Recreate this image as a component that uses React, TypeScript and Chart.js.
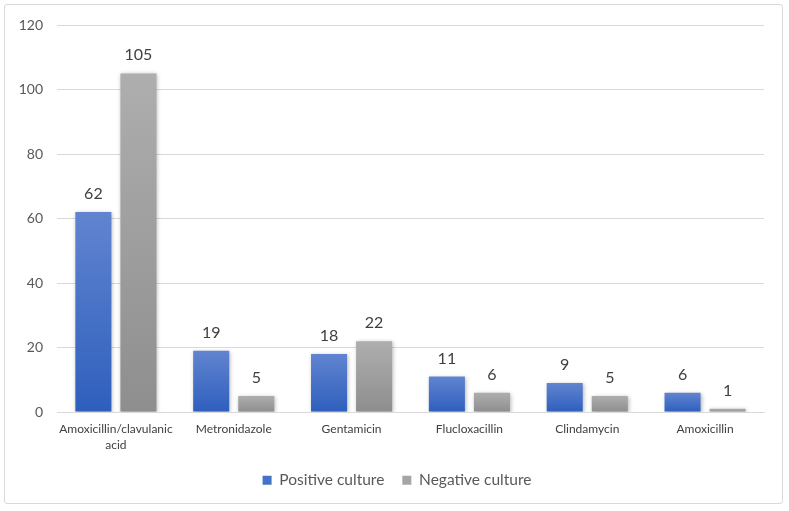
import React, { useEffect, useRef } from "react";
import { Chart, registerables } from "chart.js";

Chart.register(...registerables);

const categories: (string | string[])[] = [
  ["Amoxicillin/clavulanic", "acid"],
  "Metronidazole",
  "Gentamicin",
  "Flucloxacillin",
  "Clindamycin",
  "Amoxicillin",
];
const seriesNames = ["Positive culture", "Negative culture"];
const positiveCulture = [62, 19, 18, 11, 9, 6];
const negativeCulture = [105, 5, 22, 6, 5, 1];
const yMin = 0;
const yMax = 120;
const yStep = 20;

const FONT = "Lato, 'Open Sans', sans-serif";

function gradientFill(top: string, bottom: string, fallback: string) {
  return (ctx: any) => {
    const chart = ctx.chart;
    const y = chart.scales && chart.scales.y;
    if (!chart.chartArea || !y || ctx.raw == null) return fallback;
    const yTop = y.getPixelForValue(ctx.raw);
    const yBase = y.getPixelForValue(0);
    if (!isFinite(yTop) || !isFinite(yBase) || Math.abs(yBase - yTop) < 1) return fallback;
    const g = chart.ctx.createLinearGradient(0, yTop, 0, yBase);
    g.addColorStop(0, top);
    g.addColorStop(1, bottom);
    return g;
  };
}

const shadowPlugin = {
  id: "barShadow",
  beforeDatasetsDraw(chart: any) {
    const c = chart.ctx;
    c.save();
    c.shadowColor = "rgba(0,0,0,0.28)";
    c.shadowBlur = 4;
    c.shadowOffsetX = 1;
    c.shadowOffsetY = 1;
  },
  afterDatasetsDraw(chart: any) {
    chart.ctx.restore();
  },
};

const legendShiftPlugin = {
  id: "legendShift",
  afterLayout(chart: any) {
    const lg = chart.legend;
    if (lg) {
      lg.left += 15;
      lg.right += 15;
    }
  },
};

const dataLabelPlugin = {
  id: "dataLabels",
  afterDraw(chart: any) {
    const c = chart.ctx;
    c.save();
    c.font = `16px ${FONT}`;
    c.fillStyle = "#404040";
    c.textAlign = "center";
    c.textBaseline = "alphabetic";
    chart.data.datasets.forEach((ds: any, i: number) => {
      const meta = chart.getDatasetMeta(i);
      meta.data.forEach((el: any, j: number) => {
        c.fillText(String(ds.data[j]), el.x, el.y - 13);
      });
    });
    c.restore();
  },
};

export default function App() {
  const ref = useRef<HTMLCanvasElement | null>(null);

  useEffect(() => {
    document.body.style.margin = "0";
    if (!ref.current) return;
    const chart = new Chart(ref.current, {
      type: "bar",
      data: {
        labels: categories as any,
        datasets: [
          {
            label: seriesNames[0],
            data: positiveCulture,
            backgroundColor: gradientFill("#6184d0", "#2e5fbd", "#4472c4") as any,
            barPercentage: 0.8,
            categoryPercentage: 0.765,
          },
          {
            label: seriesNames[1],
            data: negativeCulture,
            backgroundColor: gradientFill("#aeaeae", "#8e8e8e", "#a5a5a5") as any,
            barPercentage: 0.8,
            categoryPercentage: 0.765,
          },
        ],
      },
      options: {
        animation: false,
        responsive: false,
        maintainAspectRatio: false,
        layout: { padding: { left: 0, right: 25, top: 25, bottom: 13 } },
        plugins: {
          tooltip: { enabled: false },
          legend: {
            position: "bottom",
            labels: {
              boxWidth: 9,
              boxHeight: 9,
              padding: 18,
              color: "#595959",
              font: { family: FONT, size: 15.5 },
              generateLabels: () => [
                { text: seriesNames[0], fillStyle: "#4472c4", strokeStyle: "#4472c4", lineWidth: 0, datasetIndex: 0, fontColor: "#595959" },
                { text: seriesNames[1], fillStyle: "#a5a5a5", strokeStyle: "#a5a5a5", lineWidth: 0, datasetIndex: 1, fontColor: "#595959" },
              ] as any,
            },
          },
        },
        scales: {
          x: {
            grid: { display: false },
            border: { display: true, color: "#d9d9d9", width: 1 },
            ticks: {
              color: "#404040",
              font: { family: FONT, size: 12, lineHeight: 1.35 },
              padding: 1,
              maxRotation: 0,
              autoSkip: false,
            },
          },
          y: {
            min: yMin,
            max: yMax,
            grid: { color: "#d9d9d9", drawTicks: false },
            border: { display: false },
            ticks: {
              stepSize: yStep,
              color: "#595959",
              font: { family: FONT, size: 14 },
              padding: 14,
            },
            afterFit: (scale: any) => {
              scale.width = 57;
            },
          },
        },
      },
      plugins: [shadowPlugin, dataLabelPlugin, legendShiftPlugin],
    });
    return () => chart.destroy();
  }, []);

  return (
    <div style={{ position: "relative", width: 789, height: 511, background: "#fff" }}>
      <canvas ref={ref} width={789} height={511} style={{ position: "absolute", left: 0, top: 0, width: 789, height: 511 }} />
      <div
        style={{
          position: "absolute",
          left: 4,
          top: 4,
          width: 779,
          height: 500,
          border: "1px solid #d9d9d9",
          borderRadius: 3,
          pointerEvents: "none",
          boxSizing: "border-box",
        }}
      />
    </div>
  );
}
